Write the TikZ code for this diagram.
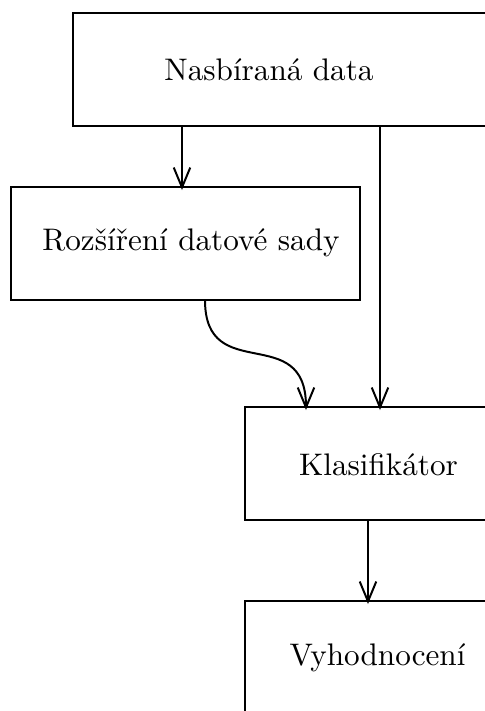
\documentclass[tikz,border=0pt]{standalone}
\usetikzlibrary{arrows.meta}
\begin{document}
\begin{tikzpicture}[x=0.327pt,y=-0.327pt,
  box/.style={draw,line width=0.8pt,inner sep=0pt,outer sep=0pt,minimum height=113*0.327pt},
  lbl/.style={inner sep=0pt,font=\fontsize{10.2}{12}\selectfont},
  conn/.style={line width=0.65pt,-{Straight Barb[length=6.5pt,width=5.4pt,line width=0.65pt]},shorten >=-3*0.327pt}]
\clip (0,0) rectangle (485,711);
\node[box,minimum width=447*0.327pt] (A) at (296.5,69.5) {};
\node[box,minimum width=349*0.327pt] (B) at (185.5,243.5) {};
\node[box,minimum width=275*0.327pt] (C) at (382.5,463.5) {};
\node[box,minimum width=275*0.327pt] (D) at (382.5,657.5) {};
\node[lbl] (tA) at (269,70) {Nasbíraná data};
\node[lbl] (tB) at (191,243) {Rozšíření datové sady};
\node[lbl] (tC) at (378.5,465) {Klasifikátor};
\node[lbl] (tD) at (377.5,658) {Vyhodnocení};
\coordinate (xa) at (182,0);
\coordinate (xb) at (380,0);
\coordinate (xc) at (205,0);
\coordinate (xd) at (306,0);
\coordinate (xe) at (368,0);
\draw[conn] (A.south -| xa) -- (B.north -| xa);
\draw[conn] (A.south -| xb) -- (C.north -| xb);
\draw[conn] (B.south -| xc) to[out=-90,in=90,looseness=1.5] (C.north -| xd);
\draw[conn] (C.south -| xe) -- (D.north -| xe);
\end{tikzpicture}
\end{document}
